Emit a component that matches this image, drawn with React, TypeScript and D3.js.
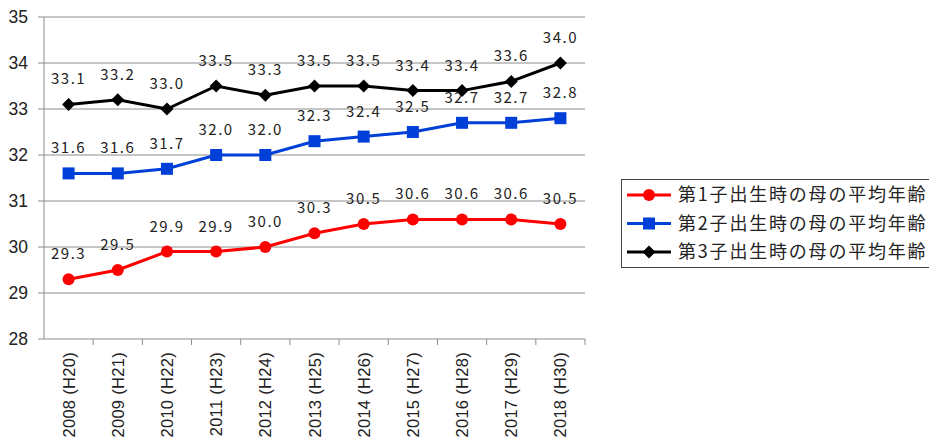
import React from "react";
import * as d3 from "d3";

const categories = ["2008(H20)", "2009(H21)", "2010(H22)", "2011(H23)", "2012(H24)", "2013(H25)", "2014(H26)", "2015(H27)", "2016(H28)", "2017(H29)", "2018(H30)"];
const first = [29.3, 29.5, 29.9, 29.9, 30.0, 30.3, 30.5, 30.6, 30.6, 30.6, 30.5];
const second = [31.6, 31.6, 31.7, 32.0, 32.0, 32.3, 32.4, 32.5, 32.7, 32.7, 32.8];
const third = [33.1, 33.2, 33.0, 33.5, 33.3, 33.5, 33.5, 33.4, 33.4, 33.6, 34.0];
const yTicks = [28, 29, 30, 31, 32, 33, 34, 35];
const seriesNames = ["第1子出生時の母の平均年齢", "第2子出生時の母の平均年齢", "第3子出生時の母の平均年齢"];

const W = 929, H = 443;
const left = 44, right = 585, top = 17, bottom = 339;

export default function App() {
  const x = d3.scaleBand<string>().domain(categories).range([left, right]);
  const y = d3.scaleLinear().domain([28, 35]).range([bottom, top]);
  const cx = (c: string) => (x(c) as number) + x.bandwidth() / 2;
  const line = d3.line<number>().x((_, i) => cx(categories[i])).y((d) => y(d));

  const series = [
    { name: seriesNames[0], values: first, color: "#ff0000", marker: "circle" },
    { name: seriesNames[1], values: second, color: "#0040d8", marker: "square" },
    { name: seriesNames[2], values: third, color: "#000000", marker: "diamond" },
  ];

  const marker = (type: string, px: number, py: number, color: string, key: any) => {
    if (type === "circle") return <circle key={key} cx={px} cy={py} r={6} fill={color} />;
    if (type === "square") return <rect key={key} x={px - 6} y={py - 6} width={12} height={12} fill={color} />;
    return <path key={key} d={`M${px},${py - 6.5}L${px + 6.5},${py}L${px},${py + 6.5}L${px - 6.5},${py}Z`} fill={color} />;
  };

  const fmt = d3.format(".1f");

  return (
    <div style={{ position: "fixed", left: 0, top: 0 }}>
      <svg width={W} height={H} style={{ display: "block", background: "#fff" }}>
        {yTicks.map((t) => (
          <g key={t}>
            {t > 28 && <line x1={left} x2={right} y1={y(t)} y2={y(t)} stroke="#8c8c8c" strokeWidth={1} />}
            <line x1={left - 6} x2={left} y1={y(t)} y2={y(t)} stroke="#8c8c8c" />
            <text x={28} y={y(t)} dy="0.36em" textAnchor="end" fontFamily="Liberation Sans, Arial" fontSize={17.5} fill="#222">{t}</text>
          </g>
        ))}
        <line x1={left} x2={left} y1={top} y2={bottom} stroke="#8c8c8c" />
        <line x1={left} x2={right} y1={bottom} y2={bottom} stroke="#8c8c8c" />
        {categories.map((c, i) => (
          <line key={"t" + i} x1={(x(c) as number) + x.bandwidth()} x2={(x(c) as number) + x.bandwidth()} y1={bottom} y2={bottom + 6} stroke="#8c8c8c" />
        ))}
        {categories.map((c) => (
          <text key={c} transform={`translate(${cx(c) + 6},${352}) rotate(-90)`} textAnchor="end" fontFamily="Liberation Sans, Arial" fontSize={16.5} letterSpacing={0.3} fill="#222">{c.replace("(", " (")}</text>
        ))}
        {series.map((s) => (
          <g key={s.name}>
            <path d={line(s.values) as string} fill="none" stroke={s.color} strokeWidth={3} />
            {s.values.map((v, i) => marker(s.marker, cx(categories[i]), y(v), s.color, i))}
            {s.values.map((v, i) => (
              <text key={"l" + i} x={cx(categories[i])} y={y(v) - 20} textAnchor="middle" fontFamily="Noto Sans CJK JP" fontSize={15} letterSpacing={1.5} fill="#222">{fmt(v)}</text>
            ))}
          </g>
        ))}
        <rect x={621.5} y={179.5} width={340} height={88} fill="#fff" stroke="#444" />
        {series.map((s, i) => {
          const ly = 195 + i * 28.5;
          return (
            <g key={"lg" + i}>
              <line x1={627} x2={671} y1={ly} y2={ly} stroke={s.color} strokeWidth={3} />
              {marker(s.marker, 649, ly, s.color, "m")}
              <text x={678} y={ly} dy="0.36em" fontFamily="Noto Sans CJK JP" fontSize={18} letterSpacing={1.8} fill="#222">{s.name}</text>
            </g>
          );
        })}
      </svg>
    </div>
  );
}
